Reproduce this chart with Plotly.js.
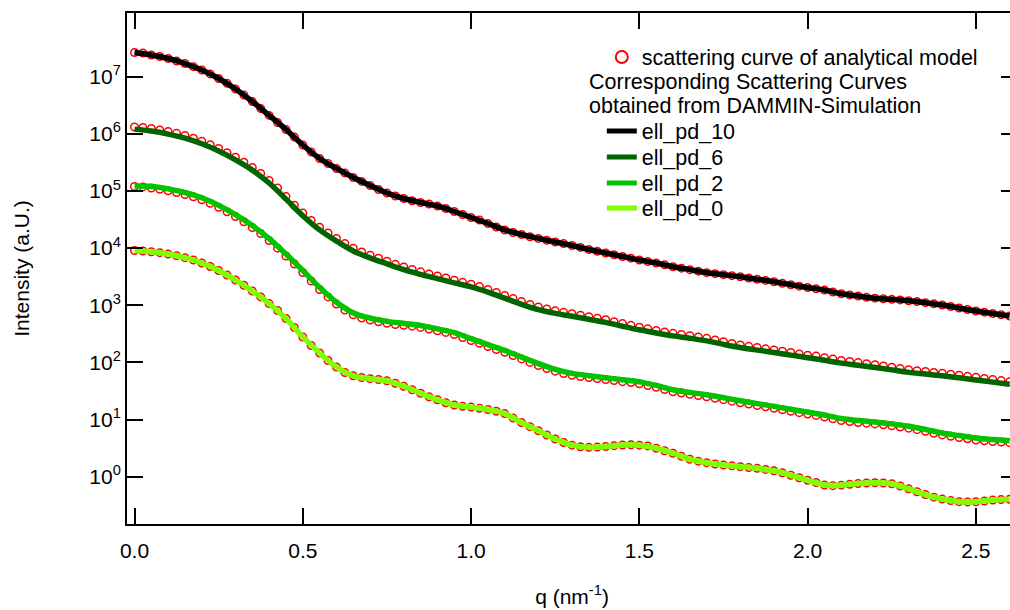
<!DOCTYPE html>
<html>
<head>
<meta charset="utf-8">
<script src="https://cdn.plot.ly/plotly-3.0.1.min.js"></script>
<style>
html,body{margin:0;padding:0;overflow:hidden;background:#fff;}
#chart{width:1020px;height:610px;}
</style>
</head>
<body>
<div id="chart"></div>
<script>
// q grid of the analytical model curves (nm^-1)
const qModel = [0,0.025,0.05,0.075,0.1,0.125,0.15,0.175,0.2,0.225,0.25,0.275,0.3,0.325,0.35,0.375,0.4,0.425,0.45,0.475,
0.5,0.525,0.55,0.575,0.6,0.625,0.65,0.675,0.7,0.725,0.75,0.775,0.8,0.825,0.85,0.875,0.9,0.925,0.95,0.975,
1.0,1.025,1.05,1.075,1.1,1.125,1.15,1.175,1.2,1.225,1.25,1.275,1.3,1.325,1.35,1.375,1.4,1.425,1.45,1.475,
1.5,1.525,1.55,1.575,1.6,1.625,1.65,1.675,1.7,1.725,1.75,1.775,1.8,1.825,1.85,1.875,1.9,1.925,1.95,1.975,
2.0,2.025,2.05,2.075,2.1,2.125,2.15,2.175,2.2,2.225,2.25,2.275,2.3,2.325,2.35,2.375,2.4,2.425,2.45,2.475,
2.5,2.525,2.55,2.575,2.6];

// analytical model intensities (red circles)
const modelPd10 = [2.65e7,2.60e7,2.40e7,2.26e7,2.08e7,1.88e7,1.70e7,1.50e7,1.31e7,1.12e7,
9.31e6,7.67e6,6.10e6,4.79e6,3.68e6,2.78e6,2.10e6,1.58e6,1.19e6,8.81e5,
6.38e5,4.82e5,3.71e5,3.03e5,2.48e5,2.07e5,1.72e5,1.47e5,1.25e5,1.06e5,
9.23e4,8.17e4,7.39e4,6.76e4,6.29e4,5.93e4,5.46e4,4.94e4,4.38e4,3.88e4,
3.44e4,3.11e4,2.70e4,2.34e4,2.08e4,1.88e4,1.73e4,1.58e4,1.48e4,1.37e4,
1.28e4,1.20e4,1.11e4,1.03e4,9.46e3,8.81e3,8.22e3,7.64e3,7.14e3,6.67e3,
6.20e3,5.84e3,5.50e3,5.11e3,4.73e3,4.46e3,4.20e3,3.95e3,3.72e3,3.57e3,
3.43e3,3.30e3,3.15e3,3.00e3,2.85e3,2.72e3,2.58e3,2.43e3,2.29e3,2.16e3,
2.05e3,1.95e3,1.85e3,1.71e3,1.59e3,1.52e3,1.45e3,1.38e3,1.33e3,1.30e3,
1.27e3,1.24e3,1.20e3,1.16e3,1.11e3,1.06e3,1.01e3,953,896,844,
794,757,718,681,649];
const modelPd6 = [1.32e6,1.29e6,1.24e6,1.17e6,1.10e6,1.02e6,9.36e5,8.40e5,7.41e5,6.46e5,
5.55e5,4.68e5,3.89e5,3.19e5,2.58e5,2.02e5,1.53e5,1.13e5,8.02e4,5.62e4,
4.12e4,3.05e4,2.32e4,1.84e4,1.48e4,1.20e4,9.94e3,8.55e3,7.50e3,6.64e3,
5.89e3,5.21e3,4.68e3,4.23e3,3.85e3,3.53e3,3.25e3,3.00e3,2.75e3,2.52e3,
2.33e3,2.12e3,1.89e3,1.67e3,1.48e3,1.31e3,1.16e3,1.03e3,933,861,
800,753,713,670,631,594,557,516,478,445,
413,387,363,342,323,308,294,279,264,247,
230,215,202,191,182,173,165,157,149,141,
134,129,121,115,108,104,99.3,95.0,90.8,86.5,
82.2,78.0,74.3,71.6,69.3,66.8,64.7,62.2,59.7,57.1,
54.9,52.5,50.2,48.1,46.0];
const modelPd2 = [1.20e5,1.18e5,1.13e5,1.07e5,1.01e5,9.41e4,8.69e4,7.94e4,7.01e4,6.09e4,
5.19e4,4.34e4,3.58e4,2.89e4,2.30e4,1.80e4,1.36e4,1.00e4,7.28e3,5.27e3,
3.75e3,2.66e3,1.89e3,1.40e3,1.05e3,826,681,599,552,514,
484,461,445,431,410,383,357,335,308,273,
242,216,190,168,150,132,115,100,88.3,78.3,
70.2,64.0,59.5,56.7,54.2,52.1,50.0,48.1,46.1,44.3,
42.3,39.5,36.7,33.6,30.7,29.2,27.7,26.4,25.1,23.6,
22.3,21.0,19.7,18.7,17.6,16.7,15.7,14.8,14.0,13.2,
12.5,11.8,11.1,10.3,9.59,9.21,8.89,8.64,8.40,8.09,
7.78,7.41,7.06,6.65,6.21,5.77,5.39,5.11,4.85,4.60,
4.39,4.25,4.13,4.04,3.94];
const modelPd0 = [9.10e3,8.91e3,8.63e3,8.32e3,7.89e3,7.38e3,6.81e3,6.20e3,5.50e3,4.77e3,
4.06e3,3.39e3,2.77e3,2.24e3,1.78e3,1.40e3,1.07e3,811,587,408,
279,198,146,108,83.2,66.7,58.3,54.5,51.9,50.2,
47.6,43.2,38.2,33.2,28.8,25.1,22.2,19.7,18.0,17.1,
16.5,15.7,15.0,14.0,12.7,10.6,8.89,7.50,6.36,5.37,
4.57,3.97,3.56,3.34,3.26,3.30,3.38,3.49,3.59,3.62,
3.56,3.46,3.15,2.85,2.57,2.27,2.02,1.87,1.76,1.67,
1.60,1.55,1.50,1.45,1.40,1.34,1.27,1.17,1.06,0.960,
0.865,0.792,0.716,0.696,0.710,0.736,0.760,0.776,0.782,0.776,
0.751,0.688,0.612,0.544,0.486,0.438,0.406,0.382,0.366,0.362,
0.365,0.376,0.389,0.397,0.402];

// q grid of the DAMMIN simulation curves
const qSim = [0,0.05,0.1,0.15,0.2,0.25,0.3,0.35,0.4,0.45,0.5,0.55,0.6,0.65,0.7,0.75,0.8,0.85,0.9,0.95,
1.0,1.05,1.1,1.15,1.2,1.25,1.3,1.35,1.4,1.45,1.5,1.55,1.6,1.65,1.7,1.75,1.8,1.85,1.9,1.95,
2.0,2.05,2.1,2.15,2.2,2.25,2.3,2.35,2.4,2.45,2.5,2.55,2.6];
const simPd10 = [2.65e7,2.40e7,2.08e7,1.70e7,1.31e7,9.31e6,6.10e6,3.68e6,2.10e6,1.19e6,
6.38e5,3.71e5,2.48e5,1.72e5,1.25e5,9.23e4,7.39e4,6.29e4,5.46e4,4.38e4,
3.44e4,2.70e4,2.08e4,1.73e4,1.48e4,1.28e4,1.11e4,9.46e3,8.22e3,7.14e3,
6.20e3,5.50e3,4.73e3,4.20e3,3.72e3,3.43e3,3.15e3,2.85e3,2.58e3,2.29e3,
2.05e3,1.85e3,1.59e3,1.45e3,1.33e3,1.27e3,1.20e3,1.11e3,1.01e3,896,
794,718,649];
const simPd6 = [1.21e6,1.12e6,9.9e5,8.4e5,6.7e5,5.0e5,3.5e5,2.32e5,1.38e5,7.2e4,
3.7e4,2.09e4,1.33e4,8.9e3,6.75e3,5.3e3,4.2e3,3.47e3,2.92e3,2.47e3,
2.10e3,1.70e3,1.33e3,1.04e3,840,720,642,568,501,430,
372,327,291,265,238,207,182,164,149,134,
121,109,97.2,89.4,81.7,74.0,66.9,62.4,58.2,53.7,
49.4,45.2,41.4];
const simPd2 = [1.22e5,1.20e5,1.09e5,9.4e4,7.6e4,5.6e4,3.87e4,2.48e4,1.47e4,7.9e3,
4.05e3,2.04e3,1.13e3,735,596,523,481,443,386,333,
261,205,162,124,95.4,75.8,64.3,58.5,54.0,49.8,
45.7,39.6,33.2,29.9,27.1,24.1,21.3,19.0,17.0,15.1,
13.5,12.0,10.4,9.60,9.07,8.40,7.62,6.71,5.82,5.24,
4.74,4.46,4.26];
const simPd0 = [9.10e3,8.63e3,7.89e3,6.81e3,5.50e3,4.06e3,2.77e3,1.78e3,1.07e3,587,
279,146,83.2,58.3,51.9,47.6,38.2,28.8,22.2,18.0,
16.5,15.0,12.7,8.89,6.36,4.57,3.56,3.26,3.38,3.59,
3.56,3.15,2.57,2.02,1.76,1.60,1.50,1.40,1.27,1.06,
0.865,0.716,0.710,0.760,0.782,0.751,0.612,0.486,0.406,0.366,
0.365,0.389,0.402];

const simNames = ['ell_pd_10','ell_pd_6','ell_pd_2','ell_pd_0'];
const simColors = ['#000000','#006400','#00c400','#80ff00'];
const modelName = 'scattering curve of analytical model';
const noteLines = ['Corresponding Scattering Curves','obtained from DAMMIN-Simulation'];
const yTickVals = [1,10,100,1000,1e4,1e5,1e6,1e7];
const yTickText = ['10<sup>0</sup>','10<sup>1</sup>','10<sup>2</sup>','10<sup>3</sup>','10<sup>4</sup>','10<sup>5</sup>','10<sup>6</sup>','10<sup>7</sup>'];

const FONT = 'Liberation Sans, Arial, Helvetica, sans-serif';
const models = [modelPd10, modelPd6, modelPd2, modelPd0];
const sims = [simPd10, simPd6, simPd2, simPd0];

const traces = [];
models.forEach((m, i) => {
  traces.push({
    x: qModel, y: m, type: 'scatter', mode: 'markers',
    name: modelName, showlegend: i === 0, legend: 'legend',
    marker: {symbol: 'circle-open', size: 7.5, color: '#ff0000', line: {width: 1.5, color: '#ff0000'}}
  });
});
sims.forEach((s, i) => {
  traces.push({
    x: qSim, y: s, type: 'scatter', mode: 'lines',
    name: simNames[i], showlegend: true, legend: 'legend' + (i + 2),
    line: {color: simColors[i], width: 5.5, shape: 'spline', smoothing: 1}
  });
});

const legX = 0.5335;
const rowY = [0.9139, 0.7691, 0.7182, 0.6673, 0.6184];
function leg(y) {
  return {x: legX, y: y, xanchor: 'left', yanchor: 'middle', bgcolor: 'rgba(0,0,0,0)',
          borderwidth: 0, itemsizing: 'constant', font: {family: FONT, size: 21.5, color: '#000'}};
}

const layout = {
  width: 1020, height: 610,
  margin: {l: 127, r: 3, t: 13, b: 86},
  paper_bgcolor: '#fff', plot_bgcolor: '#fff',
  font: {family: FONT, size: 21, color: '#000'},
  showlegend: true,
  legend: leg(rowY[0]), legend2: leg(rowY[1]), legend3: leg(rowY[2]),
  legend4: leg(rowY[3]), legend5: leg(rowY[4]),
  xaxis: {
    range: [-0.0223, 2.622], tick0: 0, dtick: 0.5, tickformat: '.1f',
    ticks: 'inside', ticklen: 16, tickwidth: 2, tickcolor: '#000',
    showline: true, linewidth: 2, linecolor: '#000', mirror: 'ticks',
    showgrid: false, zeroline: false, ticklabelstandoff: 7,
    tickfont: {family: FONT, size: 21, color: '#000'},
    title: {text: 'q (nm<sup>-1</sup>)', font: {family: FONT, size: 21, color: '#000'}, standoff: 28}
  },
  yaxis: {
    type: 'log', range: [-0.828, 8.115],
    tickvals: yTickVals, ticktext: yTickText,
    ticks: 'inside', ticklen: 16, tickwidth: 2, tickcolor: '#000',
    showline: true, linewidth: 2, linecolor: '#000', mirror: 'ticks',
    showgrid: false, zeroline: false, ticklabelstandoff: 0,
    tickfont: {family: FONT, size: 21, color: '#000'},
    title: {text: 'Intensity (a.U.)', font: {family: FONT, size: 21, color: '#000'}, standoff: 54}
  },
  annotations: noteLines.map((t, i) => ({
    text: t, xref: 'paper', yref: 'paper', x: 0.5168, y: [0.8650, 0.8180][i],
    xanchor: 'left', yanchor: 'middle', showarrow: false,
    font: {family: FONT, size: 21.5, color: '#000'}
  }))
};

Plotly.newPlot('chart', traces, layout, {displayModeBar: false, staticPlot: true});
</script>
</body>
</html>
